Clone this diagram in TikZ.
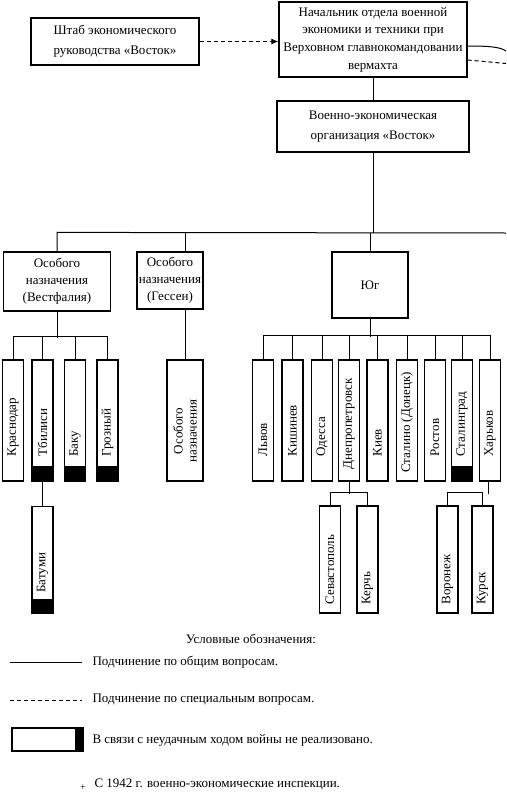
\documentclass[tikz,border=0pt]{standalone}
\usepackage{fontspec}
\setmainfont{Liberation Serif}
\usetikzlibrary{arrows.meta}
\begin{document}
\begin{tikzpicture}[x=1pt,y=1pt,yscale=-1,xscale=1,
    line width=1pt,
    box/.style={draw,line width=1.2pt,inner sep=0pt,align=center,font=\fontsize{13}{17}\selectfont},
    widebox/.style={box,font=\fontsize{13}{20}\selectfont},
    city/.style={draw,line width=1.2pt,inner sep=0pt,minimum width=21pt,minimum height=121pt},
    subcity/.style={city,minimum height=107pt},
    lost/.style={path picture={\fill (path picture bounding box.south west) rectangle ([yshift=15pt]path picture bounding box.south east);}},
    vtext/.style={rotate=90,anchor=west,inner sep=0pt,font=\fontsize{13}{14}\selectfont},
    special/.style={dash pattern=on 4pt off 3pt},
    legtext/.style={anchor=west,inner sep=0pt,font=\fontsize{13}{15}\selectfont}]
    \useasboundingbox (0,0) rectangle (506,795);

    %Shape: Rectangle [id:shtab]
    \node[widebox,minimum width=168pt,minimum height=47pt] (shtab) at (115,41.5) {Штаб экономического\\руководства «Восток»};
    %Shape: Rectangle [id:nach]
    \node[box,minimum width=188pt,minimum height=75pt,font=\fontsize{13}{17.7}\selectfont] (nach) at (373,39.5) {Начальник отдела военной\\экономики и техники при\\Верховном главнокомандовании\\вермахта};
    %Shape: Rectangle [id:org]
    \node[widebox,minimum width=192pt,minimum height=51pt] (org) at (373,126.5) {Военно-экономическая\\организация «Восток»};
    %Shape: Rectangle [id:west]
    \node[box,minimum width=107pt,minimum height=59pt] (west) at (57,281.5) {Особого\\назначения\\(Вестфалия)};
    %Shape: Rectangle [id:hessen]
    \node[box,minimum width=66pt,minimum height=57pt] (hessen) at (170,280.5) {Особого\\назначения\\(Гессен)};
    %Shape: Rectangle [id:yug]
    \node[box,minimum width=76pt,minimum height=66pt] (yug) at (370,285) {Юг};

    %Free ends on the right
    \coordinate (busR) at (506,233);
    \coordinate (outA) at (506,51);
    \coordinate (outB) at (506,63.5);

    %Straight Lines [id:shtab-nach]
    \draw[special,-{Latex[length=7pt,width=6pt]}] (shtab.east) -- (shtab.east -| nach.west);
    %Curve Lines [id:nach-out]
    \draw (nach.east |- 0,46) .. controls (490,46) and (500,47) .. (outA);
    \draw[special] (nach.east |- 0,60) -- (outB);
    %Straight Lines [id:nach-org]
    \draw (nach.south) -- (org.north);
    %Straight Lines [id:main bus]
    \draw (org.south) -- (org.south |- busR);
    \draw (west.north) -- ++(0,-19) -- (busR);
    \draw (yug.north) -- (yug.north |- busR);

    %Shape: Rectangle [id:west cities]
    \node[city] (krasnodar) at (13,420.5) {};
    \node[city,lost] (tbilisi) at (42.5,420.5) {};
    \node[city,lost] (baku) at (75,420.5) {};
    \node[city,lost] (grozny) at (107.5,420.5) {};
    \node[subcity,lost] (batumi) at (42.5,560) {};
    %Straight Lines [id:west bus]
    \draw (west.south) -- ++(0,26);
    \draw (krasnodar.north) -- ++(0,-23) -| (grozny.north);
    \draw (tbilisi.north) -- ++(0,-23);
    \draw (baku.north) -- ++(0,-23);
    \draw (tbilisi.south) -- (batumi.north);

    %Shape: Rectangle [id:hessen child]
    \node[city,minimum width=36pt] (hchild) at (185,420.5) {};
    \draw (hchild.north |- hessen.north) -- (hchild.north |- busR);
    \draw (hchild.north |- hessen.south) -- (hchild.north);

    %Shape: Rectangle [id:yug cities]
    \node[city] (lvov) at (263,420.5) {};
    \node[city] (kishinev) at (292.5,420.5) {};
    \node[city] (odessa) at (322,420.5) {};
    \node[city] (dnepr) at (349,420.5) {};
    \node[city] (kiev) at (377.5,420.5) {};
    \node[city] (stalino) at (407,420.5) {};
    \node[city] (rostov) at (435,420.5) {};
    \node[city,lost] (stalingrad) at (462,420.5) {};
    \node[city] (kharkov) at (490,420.5) {};
    \node[subcity] (sevast) at (330,559.5) {};
    \node[subcity] (kerch) at (367.5,559.5) {};
    \node[subcity] (voronezh) at (447.5,559.5) {};
    \node[subcity] (kursk) at (482.5,559.5) {};
    %Straight Lines [id:yug bus]
    \draw (yug.south) -- ++(0,18);
    \draw (lvov.north) -- ++(0,-24) -| (kharkov.north);
    \draw (kishinev.north) -- ++(0,-24);
    \draw (odessa.north) -- ++(0,-24);
    \draw (dnepr.north) -- ++(0,-24);
    \draw (kiev.north) -- ++(0,-24);
    \draw (stalino.north) -- ++(0,-24);
    \draw (rostov.north) -- ++(0,-24);
    \draw (stalingrad.north) -- ++(0,-24);
    %Straight Lines [id:dnepr bus]
    \draw (dnepr.south) -- ++(0,12);
    \draw (sevast.north) -- ++(0,-13) -| (kerch.north);
    %Straight Lines [id:kharkov bus]
    \draw ([xshift=-2pt]kharkov.south) -- ++(0,12);
    \draw (voronezh.north) -- ++(0,-13) -| (kursk.north);

    % Text Node
    \node[vtext] (t1) at (13,457) {Краснодар};
    \node[vtext] (t2) at (42.5,457) {Тбилиси};
    \node[vtext] (t3) at (75,457) {Баку};
    \node[vtext] (t4) at (107.5,457) {Грозный};
    \node[vtext] (t5) at (42.5,593) {Батуми};
    \node[vtext,anchor=center,align=center] (t6) at (185,431) {Особого\\назначения};
    \node[vtext] (t7) at (263,457) {Львов};
    \node[vtext] (t8) at (292.5,457) {Кишинев};
    \node[vtext] (t9) at (322,457) {Одесса};
    \node[vtext] (t10) at (349,470) {Днепропетровск};
    \node[vtext] (t11) at (377.5,457) {Киев};
    \node[vtext] (t12) at (407,473) {Сталино (Донецк)};
    \node[vtext] (t13) at (435,457) {Ростов};
    \node[vtext] (t14) at (462,457) {Сталинград};
    \node[vtext] (t15) at (490,457) {Харьков};
    \node[vtext] (t16) at (330,605) {Севастополь};
    \node[vtext] (t17) at (367.5,605) {Керчь};
    \node[vtext] (t18) at (447.5,605) {Воронеж};
    \node[vtext] (t19) at (482.5,605) {Курск};

    %Legend
    \node[legtext,anchor=center] (legtitle) at (251,639) {Условные обозначения:};
    \coordinate (solidA) at (10,662);
    \coordinate (solidB) at (82,662);
    \draw (solidA) -- (solidB);
    \node[legtext] (leg1) at (92,662) {Подчинение по общим вопросам.};
    \coordinate (dashA) at (10,700);
    \coordinate (dashB) at (82,700);
    \draw[special] (dashA) -- (dashB);
    \node[legtext] (leg2) at (92,700) {Подчинение по специальным вопросам.};
    \node[draw,line width=1.2pt,inner sep=0pt,minimum width=71pt,minimum height=23pt,
        path picture={\fill ([xshift=-8pt]path picture bounding box.north east) rectangle (path picture bounding box.south east);}] (legbox) at (47.5,739.5) {};
    \node[legtext] (leg3) at (92,740) {В связи с неудачным ходом войны не реализовано.};
    \node[inner sep=0pt,font=\fontsize{10}{11}\selectfont] (plus) at (83,788) {+};
    \node[legtext] (leg4) at (94,784) {С 1942 г. военно-экономические инспекции.};
\end{tikzpicture}
\end{document}
